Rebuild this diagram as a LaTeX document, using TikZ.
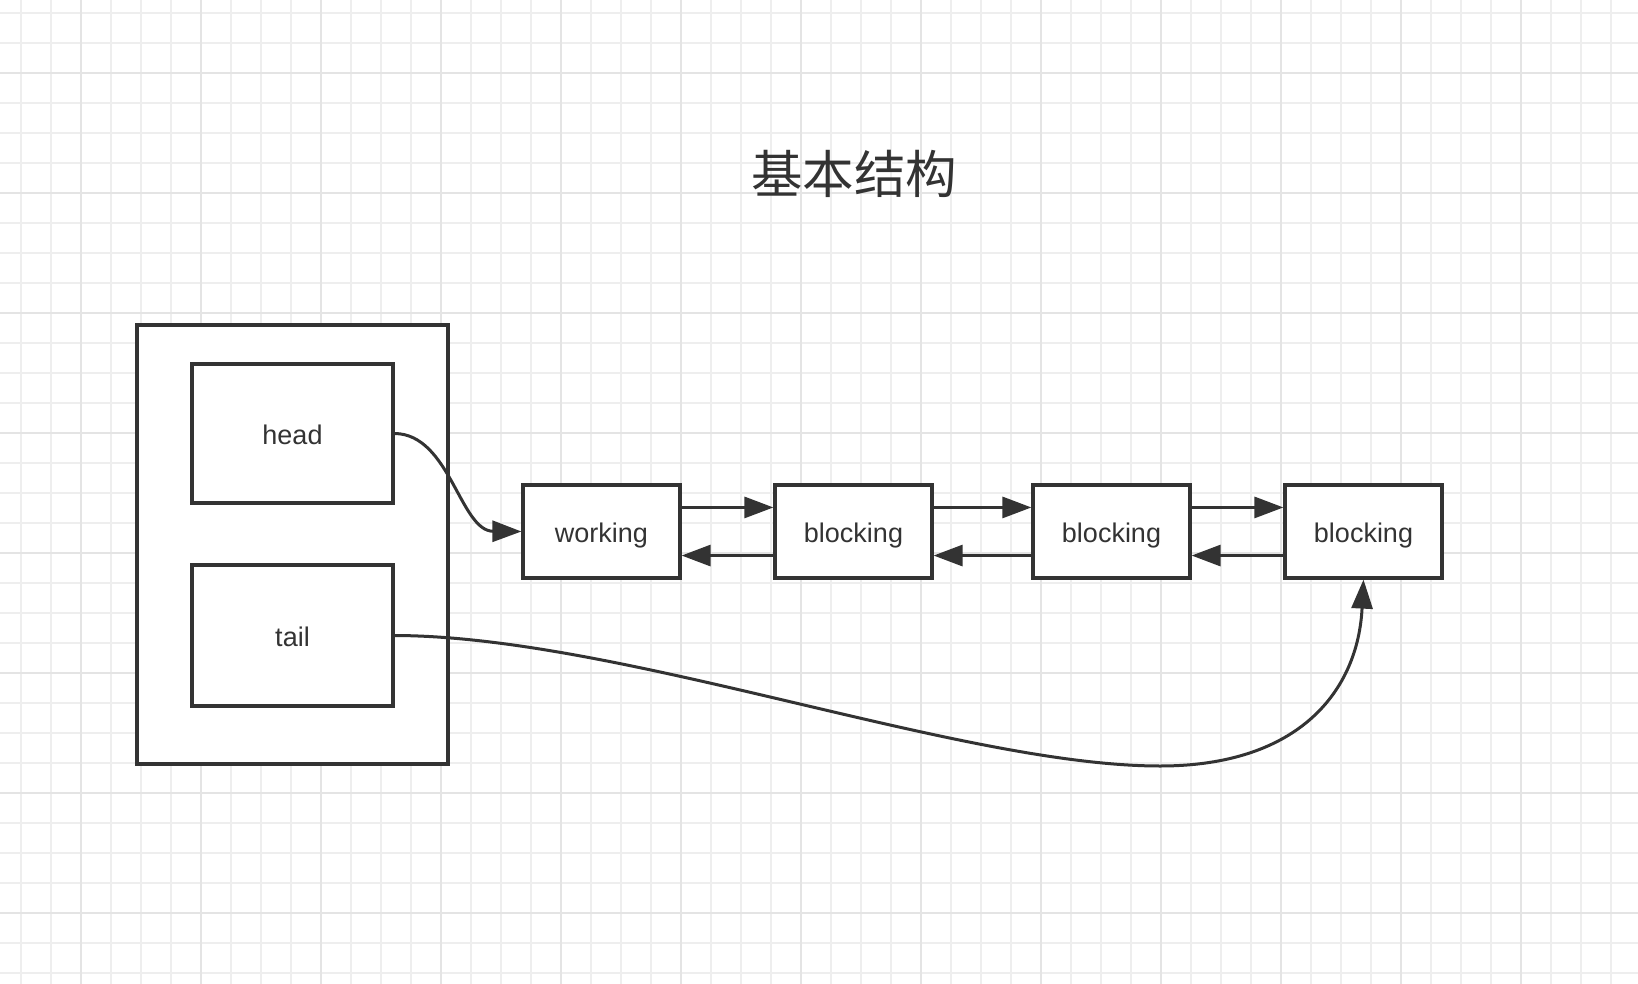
\documentclass[tikz,border=0pt]{standalone}
\usepackage{fontspec}
\setmainfont{Liberation Sans}
\newfontfamily\cjk{Noto Sans CJK SC}
\usetikzlibrary{arrows.meta,calc}
\definecolor{ink}{HTML}{333333}
\definecolor{gridminor}{HTML}{EEEEEE}
\definecolor{gridmajor}{HTML}{E4E4E4}
\tikzset{
  box/.style={draw=ink, line width=3.2pt, fill=white, rectangle, inner sep=0pt, text=ink,
    text height=24pt, text depth=2pt, font=\fontsize{27}{32}\selectfont},
  cell/.style={box, minimum width=157pt, minimum height=93pt},
  link/.style={draw=ink, line width=3pt, -{Triangle[length=29pt,width=21pt]}},
}
\begin{document}
\begin{tikzpicture}[x=1pt,y=-1pt]
\useasboundingbox (0,0) rectangle (1638,984);
\fill[white] (0,0) rectangle (1638,984);
% grid
\foreach \i in {0,...,54} { \draw[gridminor, line width=1.4pt] ({21+30*\i},0) -- ({21+30*\i},984); }
\foreach \i in {0,...,32} { \draw[gridminor, line width=1.4pt] (0,{13+30*\i}) -- (1638,{13+30*\i}); }
\foreach \i in {0,...,13} { \draw[gridmajor, line width=1.8pt] ({81+120*\i},0) -- ({81+120*\i},984); }
\foreach \i in {0,...,7} { \draw[gridmajor, line width=1.8pt] (0,{73+120*\i}) -- (1638,{73+120*\i}); }
% title
\node[text=ink, font=\cjk\fontsize{51.5}{60}\selectfont] (title) at (854,174) {基本结构};
% container
\node[box, minimum width=311pt, minimum height=439pt] (outer) at (292.5,544.5) {};
\node[box, minimum width=201pt, minimum height=139pt] (head) at (292.5,433.5) {head};
\node[box, minimum width=201pt, minimum height=141pt] (tail) at (292.5,635.5) {tail};
% list
\node[cell] (w) at (601.5,531.5) {working};
\node[cell] (b1) at (853.5,531.5) {blocking};
\node[cell] (b2) at (1111.5,531.5) {blocking};
\node[cell] (b3) at (1363.5,531.5) {blocking};
% links
\foreach \a/\b in {w/b1,b1/b2,b2/b3} {
  \draw[link] ($(\a.north east)!0.25!(\a.south east)$) -- ($(\b.north west)!0.25!(\b.south west)$);
  \draw[link] ($(\b.north west)!0.75!(\b.south west)$) -- ($(\a.north east)!0.75!(\a.south east)$);
}
\draw[link] (head.east) .. controls (450,434) and (460,531) .. (w.west);
\coordinate (low) at (1160,766);
\draw[link] (tail.east) .. controls (620,636) and (960,766) .. (low)
  .. controls (1300,766) and (1358,690) .. (b3.south);
\end{tikzpicture}
\end{document}
